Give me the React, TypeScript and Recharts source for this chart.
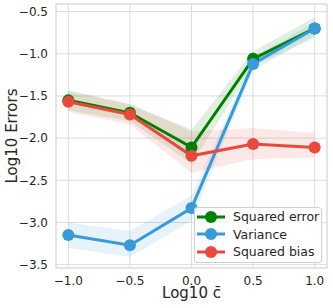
import { ComposedChart, Line, Area, XAxis, YAxis, CartesianGrid, ReferenceLine } from 'recharts';

const logC = [-1.0, -0.5, 0.0, 0.5, 1.0];
const sqError = [-1.55, -1.7, -2.11, -1.06, -0.7];
const sqErrorLow = [-1.67, -1.8, -2.3, -1.15, -0.81];
const sqErrorHigh = [-1.43, -1.6, -1.9, -0.97, -0.57];
const variance = [-3.15, -3.27, -2.83, -1.12, -0.7];
const varianceLow = [-3.3, -3.41, -2.98, -1.2, -0.78];
const varianceHigh = [-3.0, -3.1, -2.68, -1.04, -0.62];
const sqBias = [-1.57, -1.72, -2.21, -2.07, -2.11];
const sqBiasLow = [-1.69, -1.84, -2.41, -2.25, -2.23];
const sqBiasHigh = [-1.45, -1.6, -1.92, -1.88, -1.94];

const xTicks = [-1.0, -0.5, 0.0, 0.5, 1.0];
const yTicks = [-3.5, -3.0, -2.5, -2.0, -1.5, -1.0, -0.5];

const GREEN = '#008000';
const BLUE = '#3a9ad9';
const RED = '#e8493c';
const FONT = 'DejaVu Sans, sans-serif';

const data = logC.map((x, i) => ({
  x,
  err: sqError[i],
  errBand: [sqErrorLow[i], sqErrorHigh[i]],
  vari: variance[i],
  variBand: [varianceLow[i], varianceHigh[i]],
  bias: sqBias[i],
  biasBand: [sqBiasLow[i], sqBiasHigh[i]],
}));

const fmt = (v: number) => v.toFixed(1).replace('-', '\u2212');

const legendItems = [
  { name: 'Squared error', color: GREEN },
  { name: 'Variance', color: BLUE },
  { name: 'Squared bias', color: RED },
];

function LegendBox() {
  return (
    <div
      style={{
        position: 'absolute',
        left: 194,
        top: 207,
        width: 128,
        height: 56,
        background: 'rgba(255,255,255,0.85)',
        border: '1px solid #d0d0d0',
        borderRadius: 3,
        boxSizing: 'border-box',
        fontFamily: FONT,
        fontSize: 12.5,
        color: '#262626',
        padding: '0 0 0 1px',
      }}
    >
      {legendItems.map((it) => (
        <div key={it.name} style={{ display: 'flex', alignItems: 'center', height: 17.5 }}>
          <svg width={30} height={14} style={{ marginRight: 7 }}>
            <line x1={1} y1={7} x2={29} y2={7} stroke={it.color} strokeWidth={3} />
            <circle cx={15} cy={7} r={6} fill={it.color} />
          </svg>
          <span>{it.name}</span>
        </div>
      ))}
    </div>
  );
}

const XLabel = (props: any) => {
  const vb = props.viewBox || {};
  return (
    <text x={vb.x + vb.width / 2} y={293} textAnchor="middle" dominantBaseline="central" fill="#262626" fontSize={15} fontFamily={FONT}>
      Log10 c̄
    </text>
  );
};

const YLabel = (props: any) => {
  const vb = props.viewBox || {};
  const cx = 12;
  const cy = vb.y + vb.height / 2;
  return (
    <text x={cx} y={cy} textAnchor="middle" dominantBaseline="central" transform={`rotate(-90 ${cx} ${cy})`} fill="#262626" fontSize={15} fontFamily={FONT}>
      Log10 Errors
    </text>
  );
};

export default function App() {
  return (
    <div style={{ position: 'absolute', left: 0, top: 0, width: 333, height: 308, background: '#fff' }}>
      <ComposedChart width={333} height={308} data={data} margin={{ top: 4, right: 6, left: 0, bottom: 0 }}>
        <CartesianGrid stroke="#dcdcdc" strokeWidth={1} />
        <XAxis
          dataKey="x"
          type="number"
          domain={[-1.1, 1.1]}
          ticks={xTicks}
          tickFormatter={fmt}
          tickLine={false}
          axisLine={false}
          height={40}
          tick={{ fill: '#262626', fontSize: 12, fontFamily: FONT }}
          label={<XLabel />}
        />
        <YAxis
          type="number"
          domain={[-3.54, -0.41]}
          ticks={yTicks}
          tickFormatter={fmt}
          tickLine={false}
          axisLine={false}
          width={56}
          tick={{ fill: '#262626', fontSize: 12, fontFamily: FONT }}
          label={<YLabel />}
        />
        <ReferenceLine x={-1.1} stroke="#dcdcdc" />
        <ReferenceLine x={1.1} stroke="#dcdcdc" />
        <ReferenceLine y={-0.41} stroke="#dcdcdc" />
        <ReferenceLine y={-3.54} stroke="#dcdcdc" />
        <Area dataKey="errBand" stroke="none" fill={GREEN} fillOpacity={0.12} isAnimationActive={false} />
        <Area dataKey="variBand" stroke="none" fill={BLUE} fillOpacity={0.12} isAnimationActive={false} />
        <Area dataKey="biasBand" stroke="none" fill={RED} fillOpacity={0.12} isAnimationActive={false} />
        <Line dataKey="err" stroke={GREEN} strokeWidth={3} dot={{ r: 6, fill: GREEN, stroke: GREEN, strokeWidth: 0 }} isAnimationActive={false} />
        <Line dataKey="vari" stroke={BLUE} strokeWidth={3} dot={{ r: 6, fill: BLUE, stroke: BLUE, strokeWidth: 0 }} isAnimationActive={false} />
        <Line dataKey="bias" stroke={RED} strokeWidth={3} dot={{ r: 6, fill: RED, stroke: RED, strokeWidth: 0 }} isAnimationActive={false} />
      </ComposedChart>
      <LegendBox />
    </div>
  );
}
